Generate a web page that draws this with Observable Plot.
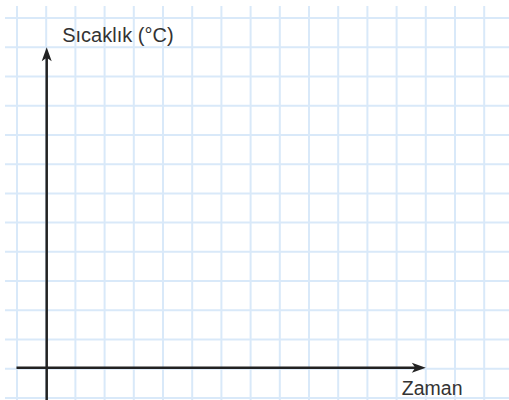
<!DOCTYPE html>
<html>
<head>
<meta charset="utf-8">
<script src="https://cdn.jsdelivr.net/npm/d3@7"></script>
<script src="https://cdn.jsdelivr.net/npm/@observablehq/plot@0.6"></script>
<style>
  html, body { margin: 0; padding: 0; background: #fff; }
  svg { display: block; }
</style>
</head>
<body>
<div id="chart"></div>
<script>
// Grid-paper columns and rows (in grid units)
const gridColumns = [0, 1, 2, 3, 4, 5, 6, 7, 8, 9, 10, 11, 12, 13, 14, 15, 16];
const gridRows = [0, 1, 2, 3, 4, 5, 6, 7, 8, 9, 10, 11, 12, 13];

// Axes (grid units): origin and arrow tips
const origin = {x: 1, y: 1};
const yAxisTip = {x: 1, y: 12};
const xAxisTip = {x: 14, y: 1};

// Axis titles
const yTitle = ["Sıcaklık (°C)"];
const xTitle = ["Zaman"];

const W = 509, H = 400;
const unitX = 29.2, unitY = 29.23;
const x0 = 16.5, y0 = 397.5; // pixel of grid column 0 / grid row 0
const xDomain = [(0 - x0) / unitX, (W - x0) / unitX];
const yDomain = [(y0 - H) / unitY, y0 / unitY];

// Filled arrowhead pointing "up", tip at origin
const arrowHead = {
  draw(context) {
    context.moveTo(0, 0);
    context.lineTo(5, 14);
    context.lineTo(0, 10.5);
    context.lineTo(-5, 14);
    context.closePath();
  }
};

const axisColor = "#222";
const gridColor = "#d9e9f9";

const chart = Plot.plot({
  width: W,
  height: H,
  margin: 0,
  x: {domain: xDomain, range: [0, W], axis: null},
  y: {domain: yDomain, range: [H, 0], axis: null},
  marks: [
    // grid paper
    Plot.ruleX(gridColumns, {x: d => d, y1: yDomain[0], y2: (y0 - 6) / unitY, stroke: gridColor, strokeWidth: 2}),
    Plot.ruleY(gridRows, {y: d => d, x1: (5 - x0) / unitX, x2: xDomain[1], stroke: gridColor, strokeWidth: 2}),
    // y axis
    Plot.ruleX([origin], {x: "x", y1: yDomain[0], y2: yAxisTip.y - 0.3, stroke: axisColor, strokeWidth: 2.5, dx: 0.5}),
    Plot.dot([yAxisTip], {x: "x", y: "y", symbol: arrowHead, fill: axisColor, stroke: "none", dx: 0.5}),
    // x axis
    Plot.ruleY([origin], {y: "y", x1: origin.x - 1, x2: xAxisTip.x - 0.3, stroke: axisColor, strokeWidth: 2.5, dy: -1}),
    Plot.dot([xAxisTip], {x: "x", y: "y", symbol: arrowHead, rotate: 90, fill: axisColor, stroke: "none", dy: -1}),
    // titles
    Plot.text(yTitle, {x: () => yAxisTip.x, y: () => yAxisTip.y, text: d => d, textAnchor: "start", lineAnchor: "bottom", dx: 16, dy: -5,
      fontSize: 20, fontFamily: "Liberation Sans, Arial, sans-serif", fill: "#333"}),
    Plot.text(xTitle, {x: () => xAxisTip.x, y: () => xAxisTip.y, text: d => d, textAnchor: "start", lineAnchor: "bottom", dx: -24, dy: 26,
      fontSize: 19.5, fontFamily: "Liberation Sans, Arial, sans-serif", fill: "#333"})
  ]
});
document.getElementById("chart").append(chart);
</script>
</body>
</html>
